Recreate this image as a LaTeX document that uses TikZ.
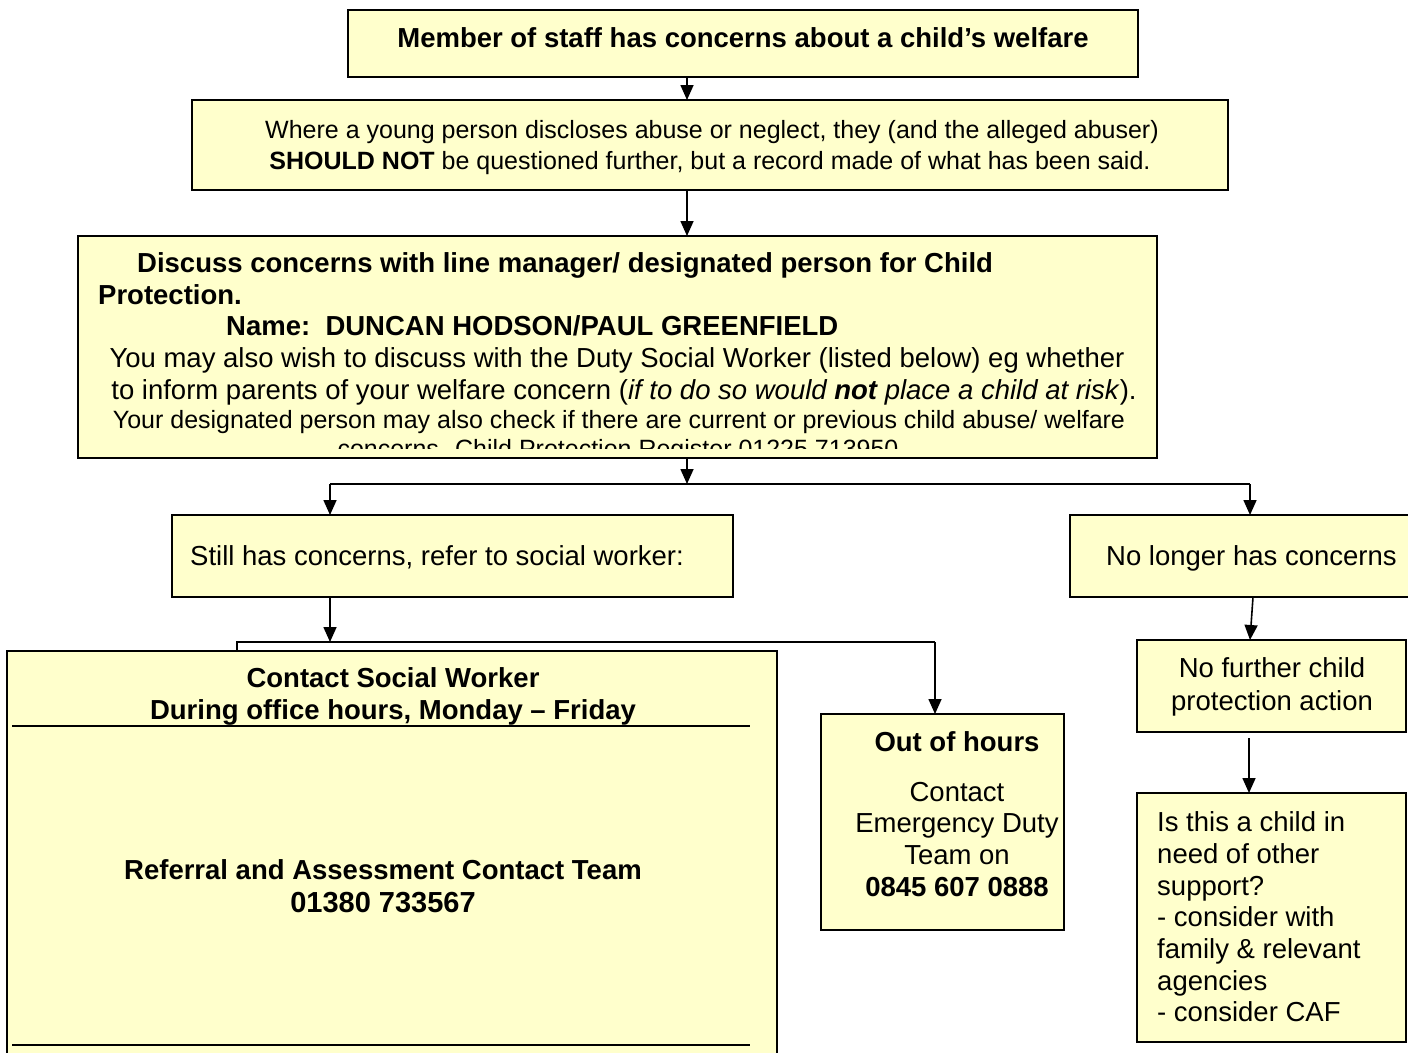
\documentclass[tikz,border=0pt]{standalone}
\usepackage{fontspec}
\setmainfont{Liberation Sans}
\usetikzlibrary{arrows.meta}
\definecolor{boxfill}{RGB}{255,255,204}
\begin{document}
\begin{tikzpicture}[x=1pt,y=-1pt,
  box/.style={draw=black, line width=1.5pt, fill=boxfill, inner sep=0pt, outer sep=0pt, anchor=north west},
  txt/.style={inner sep=0pt, font=\fontsize{27.5}{31.5}\selectfont},
  txts/.style={inner sep=0pt, font=\fontsize{25}{30}\selectfont},
  arr/.style={line width=1.6pt, -{Triangle[length=15pt,width=13pt]}},
  ln/.style={line width=1.6pt}]
\useasboundingbox (0,0) rectangle (1408,1052);
\clip (0,0) rectangle (1408,1052);
% boxes
\node[box, minimum width=790pt, minimum height=67pt] (top) at (348,10) {};
\node[box, minimum width=1036pt, minimum height=90pt] (warn) at (192,100) {};
\node[box, minimum width=1079pt, minimum height=222pt] (discuss) at (78,236) {};
\node[box, minimum width=561pt, minimum height=82pt] (still) at (172,515) {};
\node[box, minimum width=350pt, minimum height=82pt] (nolonger) at (1070,515) {};
\node[box, minimum width=770pt, minimum height=430pt] (social) at (7,651) {};
\node[box, minimum width=243pt, minimum height=216pt] (ooh) at (821,714) {};
\node[box, minimum width=269pt, minimum height=92pt] (nofurther) at (1137,640) {};
\node[box, minimum width=269pt, minimum height=249pt] (isthis) at (1137,793) {};
% texts
\node[txt, anchor=base] (t1) at (743,47) {\textbf{Member of staff has concerns about a child’s welfare}};
\node[txts, anchor=base] (t2a) at (712,138) {Where a young person discloses abuse or neglect, they (and the alleged abuser)};
\node[txts, anchor=base] (t2b) at (710,169) {\textbf{SHOULD NOT} be questioned further, but a record made of what has been said.};
\begin{scope}
\clip (80,238) rectangle (1155,448);
\node[txt, anchor=base west] (d1) at (137,272) {\textbf{Discuss concerns with line manager/ designated person for Child}};
\node[txt, anchor=base west] (d2) at (98,304) {\textbf{Protection.}};
\node[txt, anchor=base west] (d3) at (226,335) {\textbf{Name:\ \ DUNCAN HODSON/PAUL GREENFIELD}};
\node[txt, anchor=base] (d4) at (617,367) {You may also wish to discuss with the Duty Social Worker (listed below) eg whether};
\node[txt, anchor=base] (d5) at (624,399) {to inform parents of your welfare concern (\textit{if to do so would \textbf{not} place a child at risk}).};
\node[txts, anchor=base] (d6) at (619,428) {Your designated person may also check if there are current or previous child abuse/ welfare};
\node[txts, anchor=base] (d7) at (618,457) {concerns. Child Protection Register 01225 713950};
\end{scope}
\node[txt, anchor=base west] (s1) at (190,565) {Still has concerns, refer to social worker:};
\node[txt, anchor=base west] (n1) at (1106,565) {No longer has concerns};
\node[txt, anchor=base] (c1t) at (393,687) {\textbf{Contact Social Worker}};
\node[txt, anchor=base] (c2t) at (393,719) {\textbf{During office hours, Monday – Friday}};
\node[txt, anchor=base] (c3t) at (383,879) {\textbf{Referral and Assessment Contact Team}};
\node[txt, anchor=base, font=\fontsize{29}{32}\selectfont] (c4t) at (383,912) {\textbf{01380 733567}};
\node[txt, anchor=base] (o1) at (957,751) {\textbf{Out of hours}};
\node[txt, anchor=base] (o2) at (957,801) {Contact};
\node[txt, anchor=base] (o3) at (957,832) {Emergency Duty};
\node[txt, anchor=base] (o4) at (957,864) {Team on};
\node[txt, anchor=base] (o5) at (957,896) {\textbf{0845 607 0888}};
\node[txt, anchor=base] (f1) at (1272,677) {No further child};
\node[txt, anchor=base] (f2) at (1272,710) {protection action};
\node[txt, anchor=base west] (i1) at (1157,831) {Is this a child in};
\node[txt, anchor=base west] (i2) at (1157,863) {need of other};
\node[txt, anchor=base west] (i3) at (1157,895) {support?};
\node[txt, anchor=base west] (i4) at (1157,926) {- consider with};
\node[txt, anchor=base west] (i5) at (1157,958) {family \& relevant};
\node[txt, anchor=base west] (i6) at (1157,990) {agencies};
\node[txt, anchor=base west] (i7) at (1157,1021) {- consider CAF};
% rules in social box
\coordinate (rl1) at (12,726); \coordinate (rr1) at (750,726);
\coordinate (rl2) at (12,1045); \coordinate (rr2) at (750,1045);
\draw[ln] (rl1) -- (rr1);
\draw[ln] (rl2) -- (rr2);
% connectors
\coordinate (b1) at (687,484);
\coordinate (bl) at (330,484);
\coordinate (br) at (1250,484);
\coordinate (c1) at (330,642);
\coordinate (cl) at (237,642);
\coordinate (cr) at (935,642);
\coordinate (dx) at (1253,0);
\coordinate (ex) at (1249,0);
\draw[arr] (top.south -| b1) -- (warn.north -| b1);
\draw[arr] (warn.south -| b1) -- (discuss.north -| b1);
\draw[arr] (discuss.south -| b1) -- (b1);
\draw[ln] (bl) -- (br);
\draw[arr] (bl) -- (still.north -| bl);
\draw[arr] (br) -- (nolonger.north -| br);
\draw[arr] (still.south -| c1) -- (c1);
\draw[ln] (social.north -| cl) -- (cl) -- (cr);
\draw[arr] (cr) -- (ooh.north -| cr);
\draw[arr] (nolonger.south -| dx) -- (nofurther.north -| br);
\draw[arr] ([yshift=-6pt]nofurther.south -| ex) -- (isthis.north -| ex);
\end{tikzpicture}
\end{document}
